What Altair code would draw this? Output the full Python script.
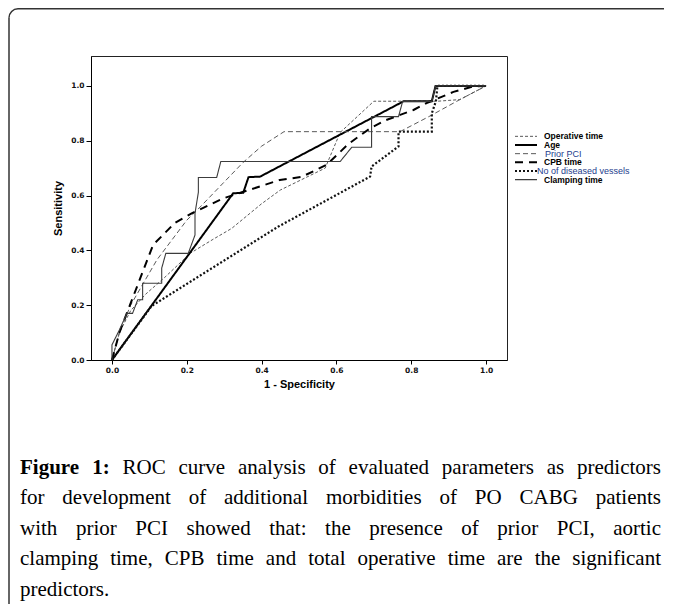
import math
import altair as alt
import pandas as pd

# ---------------- data ----------------
series_names = ["Operative time", "Age", "Prior PCI", "CPB time",
                "No of diseased vessels", "Clamping time"]

operative_fpr = [0.0, 0.02, 0.05, 0.09, 0.14, 0.21, 0.27, 0.32, 0.40, 0.45, 0.57, 0.61, 0.70, 0.78, 0.87, 0.93, 1.0]
operative_tpr = [0.0, 0.10, 0.18, 0.24, 0.30, 0.39, 0.44, 0.48, 0.57, 0.62, 0.70, 0.83, 0.944, 0.944, 0.944, 0.95, 1.0]

age_fpr = [0.0, 0.324, 0.351, 0.365, 0.396, 0.78, 0.855, 0.865, 1.0]
age_tpr = [0.0, 0.608, 0.61, 0.667, 0.669, 0.944, 0.944, 1.0, 1.0]

prior_fpr = [0.0, 0.02, 0.05, 0.12, 0.20, 0.23, 0.35, 0.40, 0.46, 0.77, 0.85, 0.93, 1.0]
prior_tpr = [0.0, 0.10, 0.20, 0.365, 0.51, 0.55, 0.72, 0.78, 0.833, 0.833, 0.89, 0.95, 1.0]

cpb_fpr = [0.0, 0.02, 0.048, 0.084, 0.11, 0.168, 0.213, 0.298, 0.449, 0.507, 0.574, 0.632, 0.69, 0.73, 0.806, 0.841, 0.913, 0.966, 1.0]
cpb_tpr = [0.0, 0.10, 0.20, 0.328, 0.42, 0.50, 0.535, 0.59, 0.657, 0.668, 0.712, 0.788, 0.845, 0.874, 0.912, 0.937, 0.978, 0.998, 1.0]

vessels_fpr = [0.0, 0.106, 0.445, 0.69, 0.694, 0.766, 0.766, 0.855, 0.855, 0.866, 0.87, 1.0]
vessels_tpr = [0.0, 0.197, 0.487, 0.669, 0.706, 0.779, 0.833, 0.833, 0.90, 0.944, 1.0, 1.0]

clamp_fpr = [0.0, 0.0, 0.02, 0.04, 0.055, 0.069, 0.082, 0.082, 0.133, 0.133, 0.144, 0.204, 0.222, 0.222,
             0.231, 0.231, 0.28, 0.291, 0.61, 0.641, 0.694, 0.694, 0.766, 0.777, 0.855, 0.865, 1.0]
clamp_tpr = [0.0, 0.055, 0.11, 0.17, 0.17, 0.22, 0.22, 0.28, 0.28, 0.335, 0.389, 0.389, 0.456, 0.535,
             0.612, 0.666, 0.666, 0.724, 0.724, 0.776, 0.776, 0.888, 0.888, 0.943, 0.943, 1.0, 1.0]

tick_values = [0.0, 0.2, 0.4, 0.6, 0.8, 1.0]

caption_bold = "Figure 1:"
caption_lines = [
    "Figure 1: ROC curve analysis of evaluated parameters as predictors",
    "for development of additional morbidities of PO CABG patients",
    "with prior PCI showed that: the presence of prior PCI, aortic",
    "clamping time, CPB time and total operative time are the significant",
    "predictors.",
]

# ---------------- build table ----------------
all_fpr = [operative_fpr, age_fpr, prior_fpr, cpb_fpr, vessels_fpr, clamp_fpr]
all_tpr = [operative_tpr, age_tpr, prior_tpr, cpb_tpr, vessels_tpr, clamp_tpr]
rows = []
for name, xs, ys in zip(series_names, all_fpr, all_tpr):
    for i, (a, b) in enumerate(zip(xs, ys)):
        rows.append({"series": name, "fpr": a, "tpr": b, "order": i})
df = pd.DataFrame(rows)
legend_df = pd.DataFrame({"series": series_names})

# ---------------- styles ----------------
color_scale = alt.Scale(domain=series_names,
                        range=["#5a5a5a", "#000000", "#5a5a5a", "#000000", "#111111", "#3c3c3c"])
dash_scale = alt.Scale(domain=series_names,
                       range=[[3, 2], [1, 0], [5, 3], [8, 6], [2, 2], [1, 0]])
width_scale = alt.Scale(type="ordinal", domain=series_names, range=[1.0, 2.0, 1.0, 2.0, 2.2, 1.1])

W, H = 416, 304
PLOT_LEFT, PLOT_TOP = 91, 56
TOTAL_W, TOTAL_H = 656, 596

x_scale = alt.Scale(domain=[-0.056, 1.056], nice=False, zero=False)
y_scale = alt.Scale(domain=[0, 1.109], nice=False, zero=False)

tick_font = "DejaVu Sans"
title_font = "Liberation Sans"

lines = alt.Chart(df).mark_line(interpolate="linear").encode(
    x=alt.X("fpr:Q", scale=x_scale,
            axis=alt.Axis(values=tick_values, format=".1f", title="1 - Specificity",
                          labelFont=tick_font, labelFontWeight="bold", labelFontSize=7.5,
                          labelColor="#111", tickSize=4, tickColor="#000", domainColor="#000",
                          labelPadding=2, titleFont=title_font, titleFontSize=11,
                          titleFontWeight="bold", titlePadding=5, grid=False, titleColor="#000")),
    y=alt.Y("tpr:Q", scale=y_scale,
            axis=alt.Axis(values=tick_values, format=".1f", title="Sensitivity",
                          labelFont=tick_font, labelFontWeight="bold", labelFontSize=7.5,
                          labelColor="#111", tickSize=5, tickColor="#000", domainColor="#000",
                          labelPadding=2, titleFont=title_font, titleFontSize=11,
                          titleFontWeight="bold", titlePadding=7, grid=False, titleColor="#000")),
    color=alt.Color("series:N", scale=color_scale, legend=None),
    strokeDash=alt.StrokeDash("series:N", scale=dash_scale, legend=None),
    strokeWidth=alt.StrokeWidth("series:N", scale=width_scale, legend=None),
    detail="series:N",
    order="order:Q",
)

# ---------------- legend (built from the series list) ----------------
leg_y = alt.Y("series:N", scale=alt.Scale(type="point", domain=series_names, range=[76, 128]), axis=None)

legend_rules = alt.Chart(legend_df).mark_rule().encode(
    x=alt.value(424), x2=alt.value(446), y=leg_y,
    color=alt.Color("series:N", scale=color_scale, legend=None),
    strokeDash=alt.StrokeDash("series:N", scale=dash_scale, legend=None),
    strokeWidth=alt.StrokeWidth("series:N", scale=width_scale, legend=None),
)

legend_text = alt.Chart(legend_df).transform_filter(
    alt.FieldOneOfPredicate(field="series", oneOf=["Operative time", "Age", "CPB time", "Clamping time"])
).mark_text(align="left", baseline="middle", font=title_font, fontSize=8.5,
            fontWeight="bold", color="#000").encode(
    x=alt.value(453), y=leg_y, text="series:N")

legend_text_prior = alt.Chart(legend_df).transform_filter(
    alt.FieldEqualPredicate(field="series", equal="Prior PCI")
).mark_text(align="left", baseline="middle", font=title_font, fontSize=9,
            color="#24408e").encode(x=alt.value(454), y=leg_y, text="series:N")

legend_text_vessels = alt.Chart(legend_df).transform_filter(
    alt.FieldEqualPredicate(field="series", equal="No of diseased vessels")
).mark_text(align="left", baseline="middle", font=title_font, fontSize=9,
            color="#24408e").encode(x=alt.value(446), y=leg_y, text="series:N")

# ---------------- outer rounded frame (decoration) ----------------
one = pd.DataFrame({"k": [0]})
FR = 9.0
fx, fy = 9.0, 8.8           # absolute page position of frame's left / top edge
frame_left = alt.Chart(one).mark_rule(color="#333", strokeWidth=1.5).encode(
    x=alt.value(fx - PLOT_LEFT), y=alt.value(fy + FR - PLOT_TOP), y2=alt.value(700 - PLOT_TOP))
frame_top = alt.Chart(one).mark_rule(color="#333", strokeWidth=1.5).encode(
    x=alt.value(fx + FR - PLOT_LEFT), x2=alt.value(800 - PLOT_LEFT), y=alt.value(fy - PLOT_TOP))
frame_corner = alt.Chart(one).mark_arc(
    theta=1.5 * math.pi, theta2=2 * math.pi, radius=FR + 0.75, radius2=FR - 0.75, color="#333"
).encode(x=alt.value(fx + FR - PLOT_LEFT), y=alt.value(fy + FR - PLOT_TOP))

# ---------------- caption, justified like the reference ----------------
TIMES = {' ': 250, ',': 250, '.': 250, ':': 278, '-': 333,
         'A': 722, 'B': 667, 'C': 667, 'G': 722, 'I': 333, 'O': 722, 'P': 556, 'R': 667, 'F': 556,
         'a': 444, 'b': 500, 'c': 444, 'd': 500, 'e': 444, 'f': 333, 'g': 500, 'h': 500, 'i': 278,
         'j': 278, 'k': 500, 'l': 278, 'm': 778, 'n': 500, 'o': 500, 'p': 500, 'q': 500, 'r': 333,
         's': 389, 't': 278, 'u': 500, 'v': 500, 'w': 722, 'x': 500, 'y': 500, 'z': 444, '1': 500}
TIMES_BOLD = {'F': 611, 'i': 278, 'g': 500, 'u': 556, 'r': 444, 'e': 444, '1': 500, ':': 333}

cap_font = "Liberation Serif"
cap_size = 21
cap_left, cap_right = 20, 661
first_base = 474
spacing = 30.4
bold_words = caption_bold.split(" ")


def word_width(w, bold):
    table = TIMES_BOLD if bold else TIMES
    return sum(table.get(ch, 500) for ch in w) * cap_size / 1000.0


cap_rows = []
for li, line in enumerate(caption_lines):
    words = line.split(" ")
    flags = [li == 0 and wi < len(bold_words) for wi in range(len(words))]
    widths = [word_width(w, b) for w, b in zip(words, flags)]
    if li < len(caption_lines) - 1 and len(words) > 1:
        gap = (cap_right - cap_left - sum(widths)) / (len(words) - 1)
    else:
        gap = TIMES[' '] * cap_size / 1000.0
    xpos = cap_left
    for w, b, wd in zip(words, flags, widths):
        cap_rows.append({"word": w, "bold": b,
                         "cx": xpos - PLOT_LEFT, "cy": first_base + li * spacing - PLOT_TOP})
        xpos += wd + gap
cap_df = pd.DataFrame(cap_rows)

cap_regular = alt.Chart(cap_df).transform_filter("!datum.bold").mark_text(
    align="left", baseline="alphabetic", font=cap_font, fontSize=cap_size, color="#000").encode(
    x=alt.X("cx:Q", scale=None, axis=None), y=alt.Y("cy:Q", scale=None, axis=None), text="word:N")
cap_boldl = alt.Chart(cap_df).transform_filter("datum.bold").mark_text(
    align="left", baseline="alphabetic", font=cap_font, fontSize=cap_size, fontWeight="bold",
    color="#000").encode(
    x=alt.X("cx:Q", scale=None, axis=None), y=alt.Y("cy:Q", scale=None, axis=None), text="word:N")

chart = alt.layer(
    frame_left, frame_top, frame_corner, lines, legend_rules, legend_text, legend_text_prior,
    legend_text_vessels, cap_regular, cap_boldl
).resolve_scale(x="independent", y="independent").properties(
    width=W, height=H,
    padding={"left": PLOT_LEFT - 8, "top": PLOT_TOP - 8,
             "right": TOTAL_W - (PLOT_LEFT - 8) - W, "bottom": TOTAL_H - (PLOT_TOP - 8) - H},
    autosize=alt.AutoSizeParams(type="none"),
    background="white",
).configure_view(stroke="#222", strokeWidth=1)

chart.save("out.html", embed_options={"renderer": "svg", "actions": False})
